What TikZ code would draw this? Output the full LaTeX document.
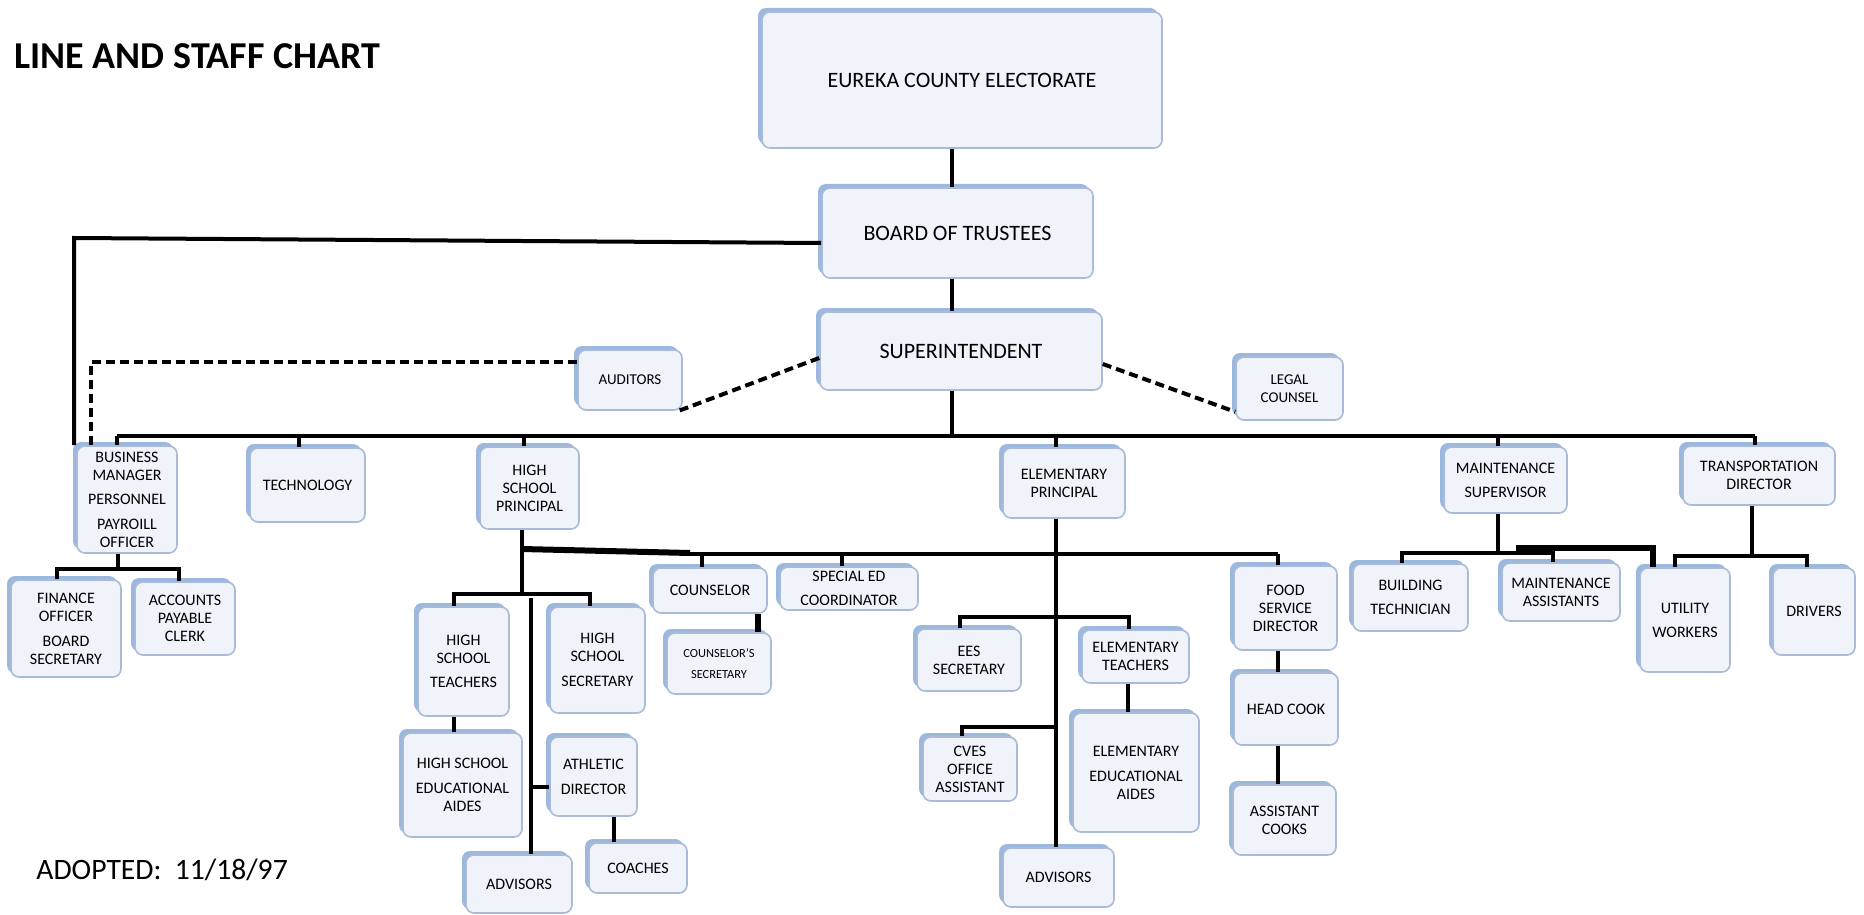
\documentclass[tikz,border=0pt]{standalone}
\usepackage{fontspec}
\setmainfont{Carlito}
\usetikzlibrary{shadows}
\definecolor{shblue}{HTML}{9DB8DE}
\definecolor{bxline}{HTML}{A9BBD6}
\definecolor{bxfill}{HTML}{F0F3FA}
\tikzset{
  box/.style={draw=bxline, line width=0.8pt, rounded corners=4pt, fill=bxfill,
    align=center, inner sep=0pt, font=\fontsize{8}{9}\selectfont,
    general shadow={shadow xshift=-2pt, shadow yshift=2pt, fill=shblue, draw=none}},
  big/.style={font=\fontsize{11}{13}\selectfont},
  mid/.style={font=\fontsize{7.5}{9}\selectfont},
  tiny/.style={font=\fontsize{6.2}{7.5}\selectfont},
  sz/.style 2 args={minimum width=#1*0.5pt, minimum height=#2*0.5pt},
  ln/.style={line width=2pt},
  thk/.style={line width=3pt},
  stf/.style={line width=2pt, dash pattern=on 4.5pt off 2.5pt},
}
\begin{document}
\begin{tikzpicture}[x=0.5pt, y=-0.5pt]
\useasboundingbox (0,0) rectangle (1864,915);

% titles
\node[anchor=west, inner sep=0pt, font=\bfseries\fontsize{19}{22}\selectfont] (title) at (14,56) {LINE AND STAFF CHART};
\node[anchor=west, inner sep=0pt, font=\fontsize{14.8}{17}\selectfont] (adopted) at (36,870) {ADOPTED:\ \ 11/18/97};

% boxes
\node[box, big, sz={400}{136}] (elect) at (962,80) {EUREKA COUNTY ELECTORATE};
\node[box, big, sz={271}{90}] (board) at (957.5,233) {BOARD OF TRUSTEES};
\node[box, big, sz={282}{78}] (super) at (961,351) {SUPERINTENDENT};
\node[box, mid, sz={104}{60}] (auditors) at (630,380) {AUDITORS};
\node[box, mid, sz={107}{63}] (legal) at (1289.5,388.5) {LEGAL\\COUNSEL};

\node[box, sz={100}{107}] (business) at (127,499.5) {BUSINESS\\MANAGER\\[3pt]PERSONNEL\\[3.5pt]PAYROILL\\OFFICER};
\node[box, sz={115}{74}] (tech) at (307.5,485) {TECHNOLOGY};
\node[box, sz={99}{82}] (hsprin) at (529.5,488) {HIGH\\SCHOOL\\PRINCIPAL};
\node[box, sz={122}{70}] (elprin) at (1064,483) {ELEMENTARY\\PRINCIPAL};
\node[box, sz={123}{66}] (maint) at (1505.5,480) {MAINTENANCE\\[3pt]SUPERVISOR};
\node[box, sz={152}{59}] (trans) at (1759,475.5) {TRANSPORTATION\\DIRECTOR};

\node[box, sz={110}{97}] (finance) at (66,628.5) {FINANCE\\OFFICER\\[3.5pt]BOARD\\SECRETARY};
\node[box, sz={100}{73}] (accounts) at (185,618.5) {ACCOUNTS\\PAYABLE\\CLERK};

\node[box, sz={91}{109}] (hsteach) at (463.5,661.5) {HIGH\\SCHOOL\\[3pt]TEACHERS};
\node[box, sz={95}{106}] (hssec) at (597.5,660) {HIGH\\SCHOOL\\[3.5pt]SECRETARY};
\node[box, sz={119}{104}] (hsaides) at (462.5,785) {HIGH SCHOOL\\[3.5pt]EDUCATIONAL\\AIDES};
\node[box, sz={87}{79}] (athletic) at (593.5,776.5) {ATHLETIC\\[3.5pt]DIRECTOR};
\node[box, sz={106}{58}] (adv1) at (519,884) {ADVISORS};
\node[box, sz={98}{50}] (coaches) at (638,868) {COACHES};
\node[box, sz={114}{45}] (counselor) at (710,590.5) {COUNSELOR};
\node[box, tiny, sz={104}{61}] (counsec) at (719,663.5) {COUNSELOR'S\\[2.7pt]SECRETARY};
\node[box, sz={138}{43}] (speced) at (849,588.5) {SPECIAL ED\\[3pt]COORDINATOR};

\node[box, sz={104}{62}] (eessec) at (969,660) {EES\\SECRETARY};
\node[box, sz={94}{64}] (cves) at (970,769) {CVES\\OFFICE\\ASSISTANT};
\node[box, sz={111}{59}] (adv2) at (1058.5,877.5) {ADVISORS};
\node[box, sz={107}{53}] (elteach) at (1135.5,656.5) {ELEMENTARY\\TEACHERS};
\node[box, sz={126}{119}] (elaides) at (1136,772.5) {ELEMENTARY\\[3.5pt]EDUCATIONAL\\AIDES};
\node[box, sz={103}{84}] (food) at (1285.5,608) {FOOD\\SERVICE\\DIRECTOR};
\node[box, sz={104}{72}] (headcook) at (1286,709) {HEAD COOK};
\node[box, sz={103}{70}] (asst) at (1284.5,820) {ASSISTANT\\COOKS};

\node[box, sz={115}{67}] (buildtech) at (1410.5,597.5) {BUILDING\\[3pt]TECHNICIAN};
\node[box, sz={118}{58}] (maintasst) at (1561,592) {MAINTENANCE\\ASSISTANTS};
\node[box, sz={90}{104}] (utility) at (1685,620) {UTILITY\\[3pt]WORKERS};
\node[box, sz={82}{87}] (drivers) at (1814,611.5) {DRIVERS};

% junction coordinates
\coordinate (tx) at (952,436);
\coordinate (busL) at (117,436);
\coordinate (busR) at (1755,436);
\coordinate (tTech) at (299,436);
\coordinate (tHS) at (524,436);
\coordinate (tEl) at (1056,436);
\coordinate (tMa) at (1498,436);

% line connectors (top)
\draw[ln] (elect.south -| tx) -- (board.north -| tx);
\draw[ln] (board.south -| tx) -- (super.north -| tx);
\draw[ln] (super.south -| tx) -- (tx);
\draw[ln] (busL) -- (busR);
\draw[ln] (busL) -- (busL |- business.north);
\draw[ln] (tTech) -- (tTech |- tech.north);
\draw[ln] (tHS) -- (tHS |- hsprin.north);
\draw[ln] (tEl) -- (tEl |- elprin.north);
\draw[ln] (tMa) -- (tMa |- maint.north);
\draw[ln] (busR) -- (busR |- trans.north);

% board to business manager
\coordinate (bl) at (74,238);
\draw[ln] ([yshift=-5pt]board.west) -- (bl) -- (bl |- business.north);

% staff (dashed)
\coordinate (dl) at (91,362);
\draw[stf] ([yshift=9pt]auditors.west) -- (dl) -- (dl |- business.north);
\draw[stf] ([yshift=-3.5pt]super.west) -- ([xshift=-2pt]auditors.south east);
\draw[stf] ([yshift=-6.5pt]super.east) -- ([yshift=4.5pt]legal.south west);

% business manager children
\coordinate (bz) at (118,569);
\coordinate (bzL) at (57,569);
\coordinate (bzR) at (179,569);
\draw[ln] (business.south -| bz) -- (bz);
\draw[ln] (bzL |- finance.north) -- (bzL) -- (bzR) -- (bzR |- accounts.north);

% high school
\coordinate (hs) at (522,594);
\coordinate (hsL) at (454,594);
\coordinate (hsR) at (590,594);
\draw[ln] (hsprin.south -| hs) -- (hs);
\draw[ln] (hsL |- hsteach.north) -- (hsL) -- (hsR) -- (hsR |- hssec.north);
\coordinate (hs2) at (531,598);
\draw[ln] (hs2) -- (hs2 |- adv1.north);
\coordinate (ath) at (531,787);
\draw[ln] (ath) -- (ath -| athletic.west);
\draw[ln] (hsL |- hsteach.south) -- (hsL |- hsaides.north);
\coordinate (ac) at (614,816);
\draw[ln] (ac |- athletic.south) -- (ac |- coaches.north);
\coordinate (k1) at (522,549);
\coordinate (k2) at (690,553);
\draw[thk] (k1) -- (k2);
\coordinate (e1) at (690,554);
\coordinate (e2) at (1278,554);
\draw[ln] (e1) -- (e2);
\coordinate (tc) at (702,554);
\draw[ln] (tc) -- (tc |- counselor.north);
\coordinate (ts) at (842,554);
\draw[ln] (ts) -- (ts |- speced.north);
\draw[ln] (e2) -- (e2 |- food.north);
\coordinate (cs) at (758,607);
\draw[thk] (cs |- counselor.south) -- (cs |- counsec.north);

% elementary
\coordinate (et) at (1056,518);
\draw[ln] (elprin.south -| et) -- (et |- adv2.north);
\coordinate (ees1) at (960,617);
\coordinate (ees2) at (1129,617);
\draw[ln] (ees1 |- eessec.north) -- (ees1) -- (ees2) -- (ees2 |- elteach.north);
\coordinate (cv) at (962,727);
\draw[ln] (cv |- cves.north) -- (cv) -- (cv -| et);
\coordinate (ea) at (1128,683);
\draw[ln] (ea |- elteach.south) -- (ea |- elaides.north);
\coordinate (fh) at (1278,650);
\draw[ln] (fh |- food.south) -- (fh |- headcook.north);
\draw[ln] (fh |- headcook.south) -- (fh |- asst.north);

% maintenance
\coordinate (mb) at (1498,553);
\coordinate (mbL) at (1402,553);
\coordinate (mbR) at (1553,553);
\draw[ln] (maint.south -| mb) -- (mb);
\draw[ln] (mbL |- buildtech.north) -- (mbL) -- (mbR) -- (mbR |- maintasst.north);
\coordinate (mx1) at (1516,548);
\coordinate (mx2) at (1653,548);
\draw[thk] (mx1) -- (mx2) -- (mx2 |- utility.north);

% transportation
\coordinate (tb) at (1752,556);
\coordinate (tbL) at (1675,556);
\coordinate (tbR) at (1807,556);
\draw[ln] (trans.south -| tb) -- (tb);
\draw[ln] (tbL |- utility.north) -- (tbL) -- (tbR) -- (tbR |- drivers.north);
\end{tikzpicture}
\end{document}
